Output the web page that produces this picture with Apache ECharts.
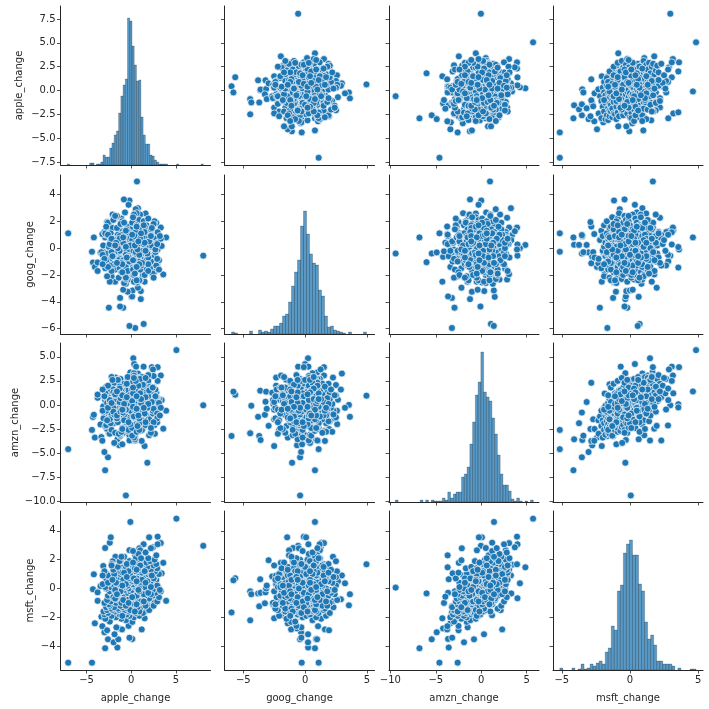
<!DOCTYPE html>
<html><head><meta charset="utf-8">
<style>html,body{margin:0;padding:0;background:#fff}#c{width:709px;height:709px}</style>
<script src="https://cdn.jsdelivr.net/npm/echarts@6/dist/echarts.min.js"></script>
</head><body><div id="c"></div>
<script>
const names = ['apple_change','goog_change','amzn_change','msft_change'];

const apple_change = [
8.05,-7.05,5.05,-4.39,-.1,-.6,-2.92,1.8,-2.6,-3,1.49,-1.35,1.17,.12,-1.55,-4.28,-4.18,-4.07,-3.76,-3.76,
-3.44,-3.34,-3.23,-3.13,-2.92,-2.4,-2.29,-1.77,-2.08,.23,.33,.54,1.38,-.1,2.3,2.95,2.43,3.3,.75,3.9,
3.58,3.4,2.64,2,.44,1.39,-.2,-.9,-1.25,-2.5,1.07,-1.25,.03,.1,1.07,.15,-.4,-.9,.75,-.6,
.65,-.2,-.82,1.6,.5,-.3,-.7,1,.64,-1.97,-1.45,-1.87,-.2,-2.7,-1.03,-1.66,-.3,.12,-.2,-1,
-1.9,.44,-.2,.4,.9,2,2.95,1,.3,.2,-.5,1,.3,1.2,-.4,.3,-1.8,
-2.4,-.6,-2.9,-1.1,.3,-1.7,-2.2,-.2,.9,-3,-1.3,-.5,
-.9,-2.6,.5,-1.8,-.2,-3.1,1.1,-1.4,-2.1,.2,-.7,-2.7,
-2.2,-.4,.8,-1.5,-2.8,-1,.1,1.5,-1.9,-.6,-2.4,.5,
-1.2,.9,-2.5,-.3,1.7,-1.7,-.8,.4,-3,2.1,-1.1,.2,
-2.3,1.3,-.5,-1.4,.6,2.4,-2.7,-.1,-1.8,1,-.9,1.9,
-.3,-2.1,.3,-1.3,1.6,-.6,-2.6,.7,-1,2.6,-.2,-1.6,
.2,-.8,1.2,2.2,-2.2,-.4,.9,-1.5,2.9,-1.1,.5,1.8,
-2.4,-.1,-1.3,.8,-1.9,2.3,.1,-.7,1.4,-2.8,-.3,.6,
1.7,-1.6,2.7,-.6,.4,-2.3,1.1,3,-.9,.3,-1.4,2,
-.4,.9,-2,1.5,-.8,.2,2.5,-1.2,.7,-.2,1.9,-2.5,
.6,-1.1,1.3,.1,2.2,-.5,-1.7,.9,2.8,-.1,1.6,.4,
-1.5,.5,2,-.3,1.1,-.9,1.7,.2,2.6,-2,.8,-.6,
1.4,-.2,2.4,.3,-1.2,1.9,.9,3.1,-.7,.6,2.1,1.2,
-1.4,.4,1.6,2.7,-.4,1,2.2,.1,1.5,-1,2.9,.7,
.2,1.8,-.6,2.5,.9,-1.3,1.3,.1,2.8,-.4,1.7,.6,
2.1,-.2,1,2.6,.5,1.9,-.8,2.8,.8,1.6,.2,2.2,
1.5,.2,2.2,-.5,1,2.6,.5,-1,1.9,.3,2.4,-1.5,
-1,-2.4,.6,-1.9,-.1,-2.7,-1,-2,.8,-1.6,-.5,-1.2,
1.3,2,1,2.5,1.6,2.9,2,3.1,1.5,2.7,3.3,2.4,
-2.9,-3.2,-2.4,-2.8,-2.6,-1.9,-3,-2,-1.5,-2.2,-1.3,-1.1,
-2,-2.6,-1.5,-3.2,-2.2,-1.1,2.2,1.6,2.9,.9,2.5,3.2,
-.1,-.6,.4,1.1,-.9,-.6,-.3,1.4,1.8,-.4,1.1,-1.3,
.6,-1.2,1.5,-1.7,.3,2.3,-.9,1.9,-.6,1.2,-1.8,.9,
-.8,.4,1,-.3,.1,.9,-1,.6,-.5,1.5,.7,-1.8,
-1,.4,.2,1.1,.8,1.6,-1.6,2.2,-2.1,1.4,.6,.6
];
const goog_change = [
-.56,1.1,null,-.27,.8,-.4,.8,-1.05,-.4,-.32,-2.5,-.65,1.61,.89,.25,-1.07,.8,-1.4,-1.7,-1.07,
-.35,-.3,1.05,.2,-.97,1.33,-1.45,2.26,2.5,.24,0,-.56,.27,.97,1.53,-.1,1.26,1.53,2.98,.8,
-1.96,.16,-.1,-1,-5.95,-5.65,-5.8,-4.44,-4.35,-4.44,-3.8,-3.71,-3.63,-3.6,-3.2,-3.15,-3.25,-3.1,-2.95,-2.66,
-2.57,3.55,3.63,2.58,2.9,3.23,2.66,2.5,4.97,.24,.97,.24,-.3,1.94,-1.13,-.3,-.7,-1.13,1.2,-.24,
.4,1,.3,-.6,-.5,.08,1.18,-1.29,.6,1.1,-1.94,-2.34,-1.94,-1.53,-2.34,-2.5,-2.5,
-.8,.6,-1.5,1.3,-.2,.9,-2.1,.1,1.7,-.6,.4,-1.1,
1.1,-.4,2,-1.6,.3,-.9,.7,-2.2,1.5,-.1,.8,-1.3,
-.5,1.6,-2.4,.2,1,-1.2,.5,-.7,2.3,-1.8,.1,1.3,
-1,.4,1.8,-.3,-1.6,.9,-2.6,.2,1.2,-.6,2.2,-1.4,
.6,-2,1,-.8,2.6,.3,-1.1,1.4,-.2,.8,-1.9,.1,
-.7,1.5,-.1,-1.5,.5,-2.3,1.9,-.4,.7,-1,.2,2.4,
-.9,.6,-.2,1.1,-1.7,.3,2.1,-.6,-1.2,.9,-.3,1.6,
-2.5,.1,-.8,1.3,.4,-1.4,.8,-.1,2,-1,.5,-.5,
1.7,-.3,.7,-2.2,.2,1.1,-.7,-1.5,.4,2.5,-.9,.6,
-.2,1.4,-1.2,.3,.9,-2,-.5,1.2,-.8,.6,2.2,.1,
-1.6,.5,-.4,1.9,-1,.2,.8,-2.4,.3,-.6,1.3,-.1,
.7,-1.3,.1,-.5,1.6,-.9,.4,2.3,-1.8,.2,1,-.2,
-1.1,.9,.3,-2,1.8,-.4,.6,-.9,1.2,-.1,-1.5,.5,
.2,-.8,1.5,-.3,.8,-1.6,.1,1.1,-.6,2,.4,-1.2,
.9,-.5,-1.4,.3,1.4,-.2,-.9,.6,1.9,-1.7,.1,-.6,
.5,-1,-.4,.2,1.2,-.7,.8,-1.3,.3,.6,-.2,1,
.9,-1.6,.2,1.4,-.7,2,-.3,.6,-1.2,.3,-2,1,
.5,-1.3,1.7,-.4,.2,-2.1,1,.7,-.9,1.5,-.2,.4,
-.3,.8,-1.1,1.8,.1,-.8,.5,-1.6,1.2,-.1,.7,-1.9,
1.1,-.5,.3,1.6,-1.4,.6,-.8,2.1,0,-.3,.9,-1.1,
-.6,1,.4,-1.2,.7,-1.8,1.4,-.4,.3,-1,-2.2,.9,
.2,-.5,.9,-.2,.4,.1,-.6,.3,-.4,1.2,-1.3,.7,
-1.4,1.8,-2,.4,-.9,1.5,.8,-1.7,1.3,-1.1,2.4,-.5,
1.9,-1.9,.7,-.7,1,-1.2,-1.8,1.6,-.7,.4,-.1,.2,
-1.2,.2,-.9,1.1,.5,-.2,-1.1,.9,-.6,1.7,-1.4,-2.4
];
const amzn_change = [
-.04,-4.6,5.7,-2.6,1.4,-9.42,-6.8,-6.02,-5.45,-4.9,-4.28,-4.2,-3.75,-3.65,-3.58,-1.25,-1.03,-3.4,.74,1.07,
-2.03,-3.35,-3.73,-.15,.5,1.2,.07,2.84,2.07,4.85,4.25,3.98,3.98,3.38,3.93,3.93,3.69,3.06,3.26,-.6,
-2.47,.5,-3,-3.15,-3.23,1.06,1.38,-2.91,-.09,-2.95,-1.24,-3.23,1.48,-3.65,.33,1.38,-1.03,-.4,-2.18,1.27,
.1,0,-1.24,-.6,1.59,-.3,.54,1,.96,-1.9,-.8,.3,-3.2,-2.5,2.3,-1.5,-2.5,-1.6,2.7,-4.1,
-3.95,-3.7,-3.7,-3.58,-2.14,-.26,2.5,-.48,3.3,2.14,1.18,2.84,3.05,2.63,2,-.5,-1.5,
-3,-1.2,-2.2,-.6,-3.4,-1.6,-2.6,-.3,-1.9,-1.1,-3.1,-.1,
-2.4,-.9,-1.7,-2.9,.2,-1.4,-2,-3,-.5,-1.2,-2.3,.6,
-1.1,-2.7,-.3,-1.8,-2.1,.4,-3.2,-1.3,-.6,-2.5,-.9,-1.6,
.8,-1.9,-1,-2.6,-.2,-1.4,.5,-2.2,-.7,-1.6,-2.8,-.1,
-1.2,-2.4,.9,-.4,-2,-.9,.2,-1.5,1.2,-2.7,-.6,-1.8,
-.1,-1.1,-2.3,.7,-.5,1.6,-1.7,-.8,.3,-2.1,1,-1.4,
-.7,1.3,-2.6,.1,-1,.6,-.3,1.9,-1.8,-.4,-2,.8,
.3,-1.3,2.2,-.9,1.1,-.2,-2.4,.5,1.7,-.6,-1.6,2.6,
-1.1,.9,.2,-.5,1.5,-1.9,.6,-.2,2.4,-1.3,.4,1.2,
2,-.7,-.3,1,-1.6,.5,1.8,2.7,-1.2,.8,.1,1.4,
-.4,1.1,-.9,2.2,.3,1.7,.6,-1.4,1.3,2.9,-.2,.9,
1.6,-.8,.7,2.4,-.1,1,2,-1,.4,1.3,2.7,-.3,
.2,1.9,-.6,.9,1.4,2.5,-.4,.6,1.8,-.1,1.2,2.9,
1.1,2.2,.1,1.6,2.8,.5,1.4,-.2,2,1.2,.7,2.5,
2.4,.8,1.5,3,1.1,.3,2.1,1.6,.6,2.9,1.3,.2,
1.9,1,2.7,.4,1.5,3.1,2.2,.8,2,2.8,1.2,1.7,
1,1.8,.3,2.2,1.2,.6,2.5,1.5,.9,2.8,1.8,2.3,
-2.4,-1.5,-2.8,-1,-2,-1.6,-2.5,-.7,-1.7,-1.1,-.4,-.7,
-.7,-1.5,.3,-.4,.8,-.9,1.5,.2,-1.2,.9,-.3,1.8,
1.2,-.6,.5,1.9,-.3,2.3,.9,1.6,2.6,.2,1.9,1.4,
1.3,2,2.6,1.6,2.9,1.1,-2.9,-2.1,-1.4,-2.6,-1.8,-1.1,
-.6,-.2,.1,.2,-.8,-.5,.2,-1,-.3,.6,-1.5,1.7,
-1.3,.7,-.9,1.3,-1.2,.3,-.5,.1,.6,-.6,1,-1.9,
.1,-.5,.6,-1.8,.4,-1.4,1,-.6,.8,-.9,-2.2,1.1,
-.5,-.2,-.2,.6,-1.1,-1.8,1.4,-2.4,2.6,-.3,-.4,.9
];
const msft_change = [
2.96,-5.15,4.85,-5.15,4.62,.06,-4.15,-.34,-3.53,-3.04,-2.07,-2.77,-2.84,-3.5,-4.1,-.05,.98,-2.42,-.86,-.27,
.17,-1.96,-2.62,1.56,2.81,3.18,3.55,2.2,1.89,1.47,.36,-.68,3.07,1.65,1.68,3.6,2.86,3.15,.91,-.86,
1.78,1.05,.9,1.05,-1.66,.71,.57,-.2,-.4,-2.21,-.34,-1.24,.64,-.3,-.27,0,-1.03,.2,1.96,.84,
-1.17,-1.17,-.4,1.19,-.75,.36,.5,.78,1.68,-3.74,-3.53,-3.18,-3.42,-2.9,-2.84,-2.7,-2.6,-2.32,2.66,-1,
-.57,2.3,1.47,.64,2.79,3.55,3.07,2.65,-.34,-1.5,-1.86,.9,1.3,1,.3,1.6,-1.17,
-2.3,-2.2,-2.1,-2.1,-2,-2,-1.9,-1.9,-1.9,-1.8,-1.8,-1.8,
-1.7,-1.7,-1.7,-1.6,-1.6,-1.6,-1.6,-1.5,-1.5,-1.5,-1.5,-1.5,
-1.4,-1.4,-1.4,-1.4,-1.3,-1.3,-1.3,-1.3,-1.3,-1.2,-1.2,-1.2,
-1.2,-1.1,-1.1,-1.1,-1.1,-1,-1,-1,-1,-1,-.9,-.9,
-.9,-.9,-.9,-.8,-.8,-.8,-.8,-.8,-.7,-.7,-.7,-.7,
-.7,-.6,-.6,-.6,-.6,-.6,-.5,-.5,-.5,-.5,-.5,-.4,
-.4,-.4,-.4,-.4,-.3,-.3,-.3,-.3,-.3,-.2,-.2,-.2,
-.2,-.2,-.2,-.1,-.1,-.1,-.1,-.1,-.1,0,0,0,
0,0,0,.1,.1,.1,.1,.1,.1,.2,.2,.2,
.2,.2,.3,.3,.3,.3,.3,.3,.4,.4,.4,.4,
.4,.5,.5,.5,.5,.5,.6,.6,.6,.6,.6,.6,
.7,.7,.7,.7,.7,.8,.8,.8,.8,.8,.9,.9,
.9,.9,.9,1,1,1,1,1,1.1,1.1,1.1,1.1,
1.2,1.2,1.2,1.2,1.3,1.3,1.3,1.3,1.4,1.4,1.4,1.4,
1.5,1.5,1.5,1.6,1.6,1.6,1.7,1.7,1.7,1.8,1.8,1.8,
1.9,1.9,2,2,2.1,2.1,2.2,2.3,2.4,2.5,2.6,2.8,
-1.6,-1.4,-1.3,-1.2,-1.1,-1,-.9,-.8,-.7,-.6,-.5,-.4,
.4,.5,.7,.8,.9,1,1.1,1.2,1.4,1.5,1.7,1.9,
-1.7,-1.5,-1.4,-1.2,-1,-.9,-.7,-.6,-.5,-.3,-.2,-.1,
.1,.3,.5,.7,.9,1,1.2,1.3,1.5,1.7,1.9,2.2,
-.6,.4,-.2,.9,1.6,-1,-.4,-1.2,.2,-1.6,.7,-.1,
-1.5,-1.2,-1.1,-.9,.6,1,1.2,-.4,.5,-.8,.2,.3,
-.5,-.2,.1,.4,.7,.9,-.8,-.3,.3,.6,-.1,0,
1.1,1.4,1.6,-1,-.6,-.2,.2,.5,.8,1.2,-1.3,-.7,
-1.9,-1.6,1.8,2.1,-.1,.4,-.4,.1,.6,-.9,1.3,-1.1
];

// histogram bin counts and the range they span
const apple_hist = [1,0,0,0,0,0,0,0,0,0,2,2,0,1,1,3,10,8,8,17,22,30,34,52,69,80,86,147,144,119,100,84,85,48,30,21,21,10,9,5,3,1,1,1,1,0,0,0,0,1,0,0,0,0,0,0,0,0,0,0,1];
const goog_hist = [2,1,0,0,0,0,3,0,0,4,2,3,2,5,8,8,11,18,20,32,48,62,74,108,123,100,80,71,69,44,38,18,7,8,4,3,2,1,0,2,0,0,0,0,2];
const amzn_hist = [2,0,0,0,0,0,0,0,0,2,0,2,0,2,1,1,1,4,2,10,4,8,10,10,25,28,35,58,80,107,120,150,110,105,101,84,68,47,28,17,17,11,3,1,4,1,0,1,0,2];
const msft_hist = [2,0,0,0,2,0,1,6,1,2,6,4,7,9,6,18,22,44,40,79,85,117,126,130,115,115,86,79,48,31,35,25,9,9,6,6,6,4,0,2,0,0,0,1,1];
const hist_lo = [-7.14,-5.95,-9.45,-5.15];
const hist_hi = [8.05,4.97,5.72,4.85];

// tick labels
const x_ticks = [[-5,0,5],[-5,0,5],[-10,-5,0,5],[-5,0,5]];
const y_ticks = [[-7.5,-5,-2.5,0,2.5,5,7.5],[-6,-4,-2,0,2,4],[-10,-7.5,-5,-2.5,0,2.5,5],[-4,-2,0,2,4]];
const y_dec = [1,0,1,0];
const x_lim = [[-7.91,8.86],[-6.52,5.62],[-10.15,6.35],[-5.65,5.36]];
const y_lim = [[-7.81,8.86],[-6.4,5.45],[-10.1,6.44],[-5.66,5.38]];

// layout
const col_left = [60.5,224.5,389,553], col_w = 150;
const row_top = [6,175,343,511], row_h = 159;
const y_name_gap = [36,25,40,25];

const vars = [apple_change,goog_change,amzn_change,msft_change];
const hists = [apple_hist,goog_hist,amzn_hist,msft_hist];
const ink = '#262626', blue = '#1f77b4';
const fmt = (v,d)=>{const s=Math.abs(v).toFixed(d);return (v<0?'\u2212':'')+s;};

const grid=[],xAxis=[],yAxis=[],series=[];
let yi=0;
function axisBase(ticks,lim,dec,showLabels){
  return {type:'value',min:lim[0],max:lim[1],splitLine:{show:false},
    axisLine:{show:true,onZero:false,lineStyle:{color:ink,width:1}},
    axisTick:{show:true,length:3.5,lineStyle:{color:ink,width:.8},customValues:ticks},
    axisLabel:{show:showLabels,color:ink,fontSize:10,fontFamily:'DejaVu Sans',margin:5,hideOverlap:false,
      customValues:ticks,formatter:v=>fmt(v,dec)}};
}
for(let r=0;r<4;r++)for(let c=0;c<4;c++){
  const g=grid.length;
  grid.push({left:col_left[c],top:row_top[r],width:col_w,height:row_h,containLabel:false});
  const xa=axisBase(x_ticks[c],x_lim[c],0,r===3);
  Object.assign(xa,{gridIndex:g,position:'bottom'});
  if(r===3)Object.assign(xa,{name:names[c],nameLocation:'middle',nameGap:23,nameTextStyle:{color:ink,fontSize:10,fontFamily:'DejaVu Sans'}});
  xAxis.push(xa);
  const ya=axisBase(y_ticks[r],y_lim[r],y_dec[r],c===0);
  Object.assign(ya,{gridIndex:g,position:'left'});
  if(c===0)Object.assign(ya,{name:names[r],nameLocation:'middle',nameGap:y_name_gap[r],nameTextStyle:{color:ink,fontSize:10,fontFamily:'DejaVu Sans'}});
  yAxis.push(ya);
  const yMain=yi++;
  if(r===c){
    yAxis.push({type:'value',gridIndex:g,min:0,max:row_h,show:false});
    const yHist=yi++;
    const h=hists[c],w=(hist_hi[c]-hist_lo[c])/h.length;
    series.push({type:'custom',xAxisIndex:g,yAxisIndex:yHist,silent:true,clip:true,
      data:h.map((n,k)=>[hist_lo[c]+k*w,hist_lo[c]+(k+1)*w,n]).filter(d=>d[2]>0),
      encode:{x:[0,1],y:2},
      renderItem:(p,api)=>{
        const a=api.coord([api.value(0),api.value(2)]),b=api.coord([api.value(1),0]);
        return {type:'rect',shape:{x:a[0],y:a[1],width:b[0]-a[0],height:b[1]-a[1]},
          style:{fill:'rgba(31,119,180,0.75)',stroke:'rgba(0,0,0,0.28)',lineWidth:.75}};
      }});
  }else{
    const pts=[];
    for(let i=0;i<vars[c].length;i++){
      const xv=vars[c][i],yv=vars[r][i];
      if(xv!=null&&yv!=null)pts.push([xv,yv]);
    }
    series.push({type:'scatter',xAxisIndex:g,yAxisIndex:yMain,silent:true,data:pts,symbolSize:7,
      itemStyle:{color:blue,opacity:1,borderColor:'#fff',borderWidth:.7}});
  }
}
const chart=echarts.init(document.getElementById('c'),null,{renderer:'canvas'});
chart.setOption({animation:false,backgroundColor:'#fff',grid,xAxis,yAxis,series,tooltip:{show:false}});
</script></body></html>
